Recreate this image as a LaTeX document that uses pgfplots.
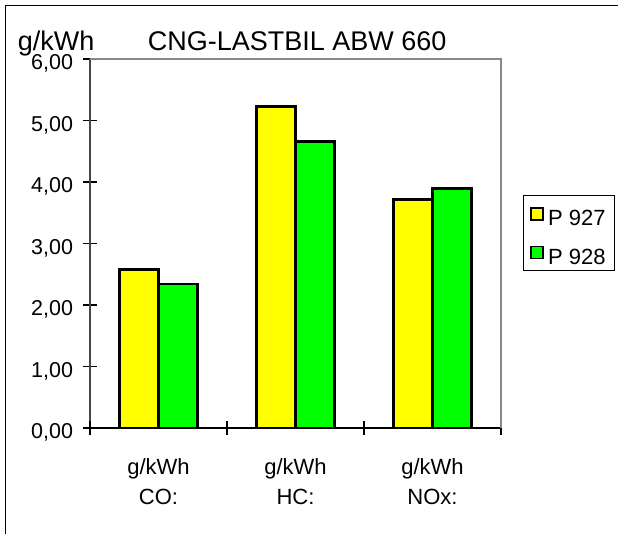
\documentclass[border=0pt]{standalone}
\usepackage{pgfplots}
\pgfplotsset{compat=1.18}
\usepackage{fontspec}
\setmainfont{Liberation Sans}

\definecolor{barYellow}{RGB}{255,255,0}
\definecolor{barGreen}{RGB}{0,255,0}
\definecolor{frameGray}{RGB}{136,136,136}
\definecolor{axisGray}{RGB}{70,70,70}

% emissions per test, g/kWh
\pgfplotstableread{
idx  p927  p928
0    2.58  2.34
1    5.23  4.66
2    3.72  3.90
}\emissions

\pgfplotsset{
  squarelegend/.style={legend image code/.code={
      \draw[##1, line width=1.6pt] (1pt,-6pt) rectangle (13pt,6pt);}},
}

\begin{document}
\begin{tikzpicture}
\useasboundingbox (0pt,0pt) rectangle (618pt,-534pt);
% outer chart frame
\draw[line width=1.5pt] (5.5pt,-534pt) -- (5.5pt,-5.5pt) -- (618pt,-5.5pt);
\node[anchor=base west, inner sep=0, font=\fontsize{27}{32}\selectfont] at (17.7pt,-50.4pt) {g/kWh};
\node[anchor=base west, inner sep=0, font=\fontsize{27}{32}\selectfont] at (147.6pt,-50.4pt) {CNG-LASTBIL ABW 660};

\begin{axis}[
  at={(90pt,-428pt)}, anchor=south west,
  scale only axis, width=411pt, height=369pt,
  xmin=-0.5, xmax=2.5, ymin=0, ymax=6,
  ybar=0pt, bar width=39pt,
  axis x line=bottom, axis y line=left,
  x axis line style={-, black, line width=1.6pt},
  y axis line style={-, axisGray, line width=2.6pt},
  tick align=center, major tick length=14pt,
  ytick={0,1,2,3,4,5,6},
  ytick style={black, line width=1.2pt},
  yticklabel style={font=\fontsize{21.5}{26}\selectfont, xshift=-6.5pt, yshift=-4.5pt,
    /pgf/number format/.cd, fixed, fixed zerofill, precision=2, use comma, assume math mode=true},
  xtick={0,1,2},
  xticklabels={{g/kWh\\CO:},{g/kWh\\HC:},{g/kWh\\NOx:}},
  xtick style={draw=none},
  xticklabel style={font=\fontsize{22}{30}\selectfont, align=center, anchor=north, yshift=-20pt},
  extra x ticks={-0.5,0.5,1.5,2.5},
  extra x tick labels={},
  extra x tick style={xtick style={draw=black, line width=1.2pt}},
  legend style={at={(1.0535,0.631)}, anchor=north west, draw=black, line width=1pt,
    fill=white, font=\fontsize{22}{26}\selectfont, inner xsep=7pt, inner ysep=3pt,
    row sep=8pt,
    /tikz/every odd column/.append style={column sep=2pt},
    /tikz/every even column/.append style={text height=25pt}},
  legend cell align=left,
  clip=false,
]
\addplot[fill=barYellow, draw=black, line width=2.7pt, squarelegend] table[x=idx, y=p927] {\emissions};
\addplot[fill=barGreen, draw=black, line width=2.7pt, squarelegend] table[x=idx, y=p928] {\emissions};
\legend{P 927, P 928}
% plot area frame, top and right
\draw[frameGray, line width=2.6pt] (rel axis cs:0,1) -- (rel axis cs:1,1) -- (rel axis cs:1,0);
\end{axis}
\end{tikzpicture}
\end{document}
